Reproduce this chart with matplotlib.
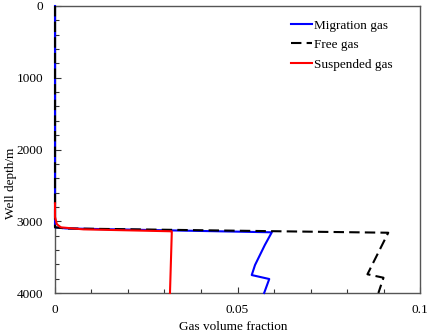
import matplotlib.pyplot as plt
from matplotlib.ticker import MultipleLocator, FixedLocator

plt.rcParams['font.family'] = 'Liberation Serif'

# Depth profiles (depth in m, gas volume fraction)
migration_depth = [0, 3085, 3100, 3154, 3330, 3610, 3750, 3805, 4000]
migration_frac = [0, 0, 0.003, 0.0594, 0.0575, 0.0548, 0.0539, 0.0587, 0.0573]

free_depth = [0, 3085, 3100, 3160, 3739, 3787, 4000]
free_frac = [0, 0, 0.003, 0.0913, 0.0856, 0.0900, 0.0886]

suspended_depth = [2750, 2940, 3040, 3085, 3113, 3140, 3150, 4000]
suspended_frac = [0, 0, 0.0005, 0.0016, 0.0078, 0.0320, 0.0320, 0.0315]

x_ticks = [0, 0.05, 0.1]
x_tick_labels = ['0', '0.05', '0.1']
y_ticks = [0, 1000, 2000, 3000, 4000]

fig = plt.figure(figsize=(4.29, 3.35), dpi=100)
ax = fig.add_axes([55 / 429, 42 / 335, 365 / 429, 287 / 335])

ax.plot(migration_frac, migration_depth, color='#0000ff', lw=1.5,
        label='Migration gas', clip_on=False, zorder=3)
ax.plot(free_frac, free_depth, color='black', lw=1.5, linestyle=(0, (5, 2.5)),
        label='Free gas', clip_on=False, zorder=3)
ax.plot(suspended_frac, suspended_depth, color='#ff0000', lw=1.5,
        label='Suspended gas', clip_on=False, zorder=4)

ax.set_xlim(0, 0.1)
ax.set_ylim(4000, 0)
ax.xaxis.set_major_locator(FixedLocator(x_ticks))
ax.set_xticklabels(x_tick_labels)
ax.xaxis.set_minor_locator(MultipleLocator(0.01))
ax.yaxis.set_major_locator(FixedLocator(y_ticks))
ax.yaxis.set_minor_locator(MultipleLocator(200))

ax.tick_params(which='both', direction='in', labelsize=9.5, colors='#333333',
               labelcolor='black')
ax.tick_params(which='major', length=4, width=0.8)
ax.tick_params(which='minor', length=3, width=0.8)
ax.tick_params(axis='y', pad=8.5)
ax.tick_params(axis='x', pad=8)

for s in ax.spines.values():
    s.set_color('#555555')
    s.set_linewidth(1)

ax.set_xlabel('Gas volume fraction', fontsize=9.5)
ax.set_ylabel('Well depth/m', fontsize=9.5)
ax.xaxis.set_label_coords(0.488, -0.097)
ax.yaxis.set_label_coords(-0.105, 0.383)

ax.legend(loc='upper right', frameon=False, fontsize=9.5, handlelength=1.6,
          handletextpad=0.15, labelspacing=0.55, borderaxespad=0.5,
          bbox_to_anchor=(0.957, 0.995))

fig.savefig('out.png', dpi=100)
